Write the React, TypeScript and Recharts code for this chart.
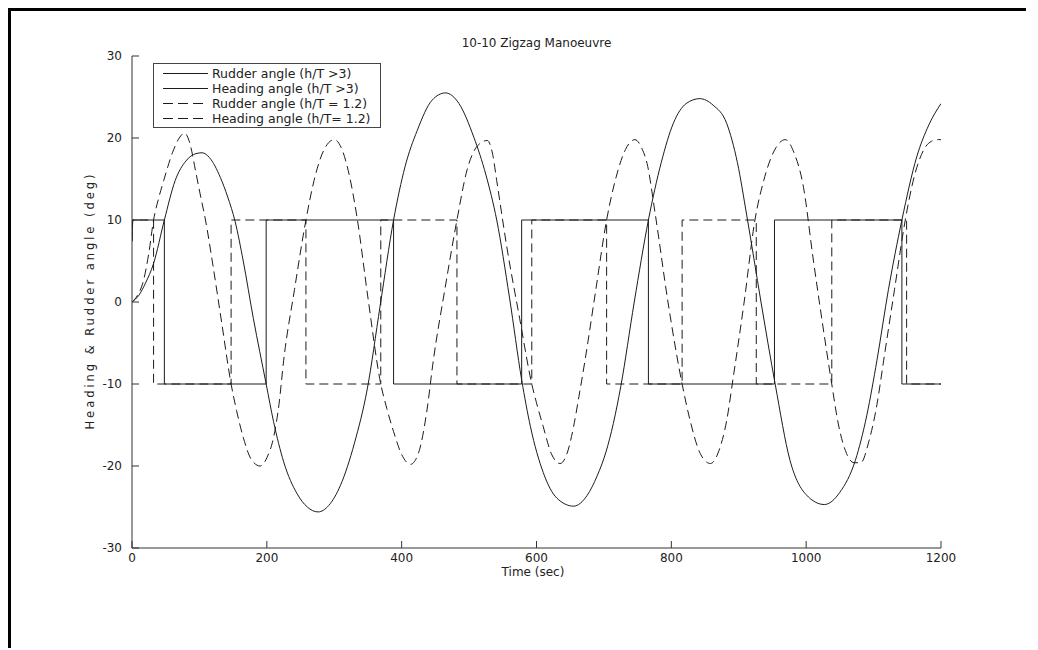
import React from 'react';
import { LineChart, Line, XAxis, YAxis, Legend } from 'recharts';

// ---- data (time in sec, angle in deg) ----
const TIME_TICKS = [0, 200, 400, 600, 800, 1000, 1200];
const ANGLE_TICKS = [-30, -20, -10, 0, 10, 20, 30];

const SERIES_NAMES = [
  'Rudder angle (h/T >3)',
  'Heading angle (h/T >3)',
  'Rudder angle (h/T = 1.2)',
  'Heading angle (h/T= 1.2)',
];

const rudderDeep: [number, number][] = [
  [0, 7.4], [1, 10], [48, 10], [48, -10], [199, -10], [199, 10], [388, 10], [388, -10],
  [578, -10], [578, 10], [766, 10], [766, -10], [953, -10], [953, 10], [1142, 10],
  [1142, -10], [1200, -10],
];

const headingDeep: [number, number][] = [
  [0, 0], [10, 0.8], [20, 2.3], [32, 4.7], [48, 10], [64, 14.8], [80, 17.2], [95, 18.1],
  [104, 18.2], [115, 17.6], [131, 15.2], [142, 12.8], [153, 9.8], [165, 5], [180, -2],
  [199, -10], [210, -14.6], [225, -19.5], [245, -23.4], [260, -25], [276, -25.6],
  [292, -24.8], [309, -22.4], [330, -17.2], [349, -10.6], [368, -0.5], [388, 10], [405, 16.5],
  [423, 20.9], [445, 24.6], [465, 25.5], [485, 24.2], [507, 20.1], [525, 15.5], [541, 10],
  [560, 0.5], [578, -9.5], [591, -15.2], [610, -20.8], [630, -23.9], [655, -24.9],
  [675, -23.6], [690, -21.2], [703, -18.3], [714, -14.8], [725, -10.3], [745, 0], [766, 10], [785, 17],
  [803, 21.8], [822, 24.2], [842, 24.8], [862, 24], [882, 21.8], [898, 17], [912, 10.5],
  [933, 0], [954, -10], [976, -19.3], [1000, -23.5], [1027, -24.7], [1050, -23.2],
  [1073, -19.3], [1090, -13.8], [1105, -7.1], [1122, 1.5], [1142, 10], [1164, 17.7],
  [1182, 21.6], [1200, 24.2],
];

const rudderShallow: [number, number][] = [
  [0, 7.4], [1, 10], [32, 10], [32, -10], [147, -10], [147, 10], [258, 10], [258, -10],
  [369, -10], [369, 10], [482, 10], [482, -10], [593, -10], [593, 10], [704, 10],
  [704, -10], [816, -10], [816, 10], [926, 10], [926, -10], [1038, -10], [1038, 10],
  [1149, 10], [1149, -10], [1200, -10],
];

const headingShallow: [number, number][] = [
  [0, 0], [8, 0.8], [17, 2.6], [25, 6], [32, 10], [40, 12.8], [47, 14.8], [60, 18.2],
  [70, 20], [78, 20.6], [86, 19.3], [94, 16.1], [101, 13.2], [109, 10], [120, 4.5],
  [133, -2.5], [147, -10], [155, -13.2], [165, -16.5], [177, -19.2], [190, -20],
  [200, -19], [210, -16.5], [218, -12.5], [225, -7.1], [241, 1.5], [258, 10], [270, 14.8],
  [285, 18.6], [300, 19.8], [312, 18.5], [323, 15.2], [334, 10.2], [350, 0.5], [369, -10],
  [378, -13], [388, -15.8], [400, -18.6], [413, -19.8], [425, -18.4], [437, -13.5],
  [447, -7.1], [464, 1.5], [482, 10], [497, 16.1], [512, 19], [527, 19.7], [535, 18],
  [541, 14.8], [556, 6.7], [575, -2], [593, -10], [600, -12.3], [610, -15.2], [622, -18.5],
  [635, -19.7], [646, -18.3], [655, -15.2], [663, -11.5], [672, -7.1], [688, 1.5],
  [704, 10], [718, 15.2], [732, 18.6], [746, 19.8], [757, 18.6], [764, 16.9], [776, 10.8],
  [795, 0], [816, -10], [828, -14.5], [843, -18.5], [858, -19.7], [872, -17.8],
  [882, -14.5], [892, -9.1], [908, 0], [924, 10], [937, 14.8], [955, 18.8], [969, 19.8],
  [982, 18.2], [996, 14], [1010, 5.5], [1024, -2.5], [1037, -9.5], [1048, -15],
  [1060, -18.5], [1071, -19.6], [1081, -19.6], [1093, -17], [1105, -12.5], [1115, -7.1],
  [1131, 1.5], [1147, 10], [1160, 15.2], [1174, 18.5], [1186, 19.6], [1196, 19.8],
  [1200, 19.8],
];

// ---- styling ----
const INK = '#1c1c1c';
const AXIS = '#333';
const FONT = '"DejaVu Sans", Verdana, sans-serif';
const DASH = '9 5';

const SERIES = [
  { name: SERIES_NAMES[0], data: rudderDeep, dashed: false, curve: 'linear' as const },
  { name: SERIES_NAMES[1], data: headingDeep, dashed: false, curve: 'monotone' as const },
  { name: SERIES_NAMES[2], data: rudderShallow, dashed: true, curve: 'linear' as const },
  { name: SERIES_NAMES[3], data: headingShallow, dashed: true, curve: 'monotone' as const },
];

const toPoints = (arr: [number, number][]) => arr.map(([t, v]) => ({ t, v }));

const XTick = (props: any) => {
  const { x, y, payload } = props;
  return (
    <g>
      <line x1={x} y1={y} x2={x} y2={y - 7} stroke={AXIS} strokeWidth={1} />
      <text x={x} y={y + 14} textAnchor="middle" fontSize={12} fontFamily={FONT} fill="#222">
        {payload.value}
      </text>
    </g>
  );
};

const YTick = (props: any) => {
  const { x, y, payload } = props;
  return (
    <g>
      <line x1={x} y1={y} x2={x + 7} y2={y} stroke={AXIS} strokeWidth={1} />
      <text x={x - 10} y={y} dy="0.36em" textAnchor="end" fontSize={12} fontFamily={FONT} fill="#222">
        {payload.value}
      </text>
    </g>
  );
};

const LegendBox = () => (
  <svg width={228} height={65} style={{ display: 'block' }}>
    <rect x={0.5} y={0.5} width={227} height={64} fill="#fff" stroke="#444" strokeWidth={1} />
    {SERIES.map((s, i) => {
      const cy = 10.5 + 15 * i;
      return (
        <g key={s.name}>
          <line x1={10} x2={55} y1={cy} y2={cy} stroke={INK} strokeWidth={1}
            strokeDasharray={s.dashed ? '10 5' : undefined} />
          <text x={59} y={cy} dy="0.36em" fontSize={12.5} fontFamily={FONT} fill="#222">
            {s.name}
          </text>
        </g>
      );
    })}
  </svg>
);

export default function App() {
  return (
    <div
      style={{
        position: 'relative',
        width: 1018,
        height: 640,
        boxSizing: 'border-box',
        borderTop: '3px solid #000',
        borderLeft: '3px solid #000',
        background: '#fff',
      }}
    >
      <LineChart
        width={1000}
        height={620}
        margin={{ top: 45, right: 70, bottom: 53, left: 0 }}
      >
        <XAxis
          type="number"
          dataKey="t"
          domain={[0, 1200]}
          ticks={TIME_TICKS}
          interval={0}
          allowDataOverflow
          height={30}
          tickSize={0}
          tickMargin={0}
          tickLine={false}
          tick={<XTick />}
          axisLine={{ stroke: AXIS, strokeWidth: 1 }}
        />
        <YAxis
          type="number"
          domain={[-30, 30]}
          ticks={ANGLE_TICKS}
          interval={0}
          allowDataOverflow
          width={121}
          tickSize={0}
          tickMargin={0}
          tickLine={false}
          tick={<YTick />}
          axisLine={{ stroke: AXIS, strokeWidth: 1 }}
        />
        <Legend
          layout="vertical"
          align="center"
          verticalAlign="middle"
          content={<LegendBox />}
          wrapperStyle={{ left: 142, top: 52, width: 228, height: 65, margin: 0 }}
        />
        {SERIES.map((s) => (
          <Line
            key={s.name}
            name={s.name}
            data={toPoints(s.data)}
            dataKey="v"
            type={s.curve}
            stroke={INK}
            strokeWidth={1}
            strokeDasharray={s.dashed ? DASH : undefined}
            dot={false}
            activeDot={false}
            isAnimationActive={false}
          />
        ))}
      </LineChart>
      <svg
        width={1000}
        height={620}
        style={{ position: 'absolute', left: 0, top: 0, pointerEvents: 'none' }}
      >
        <text x={525.5} y={36} textAnchor="middle" fontSize={12} fontFamily={FONT} fill="#222">
          10-10 Zigzag Manoeuvre
        </text>
        <text x={522} y={565} textAnchor="middle" fontSize={12} fontFamily={FONT} fill="#222">
          Time (sec)
        </text>
        <text
          x={0}
          y={0}
          transform="translate(79 291) rotate(-90)"
          dy="0.36em"
          textAnchor="middle"
          fontSize={11.5}
          fontFamily={FONT}
          fill="#222"
          textLength={255}
          lengthAdjust="spacing"
        >
          Heading &amp; Rudder angle (deg)
        </text>
      </svg>
    </div>
  );
}
